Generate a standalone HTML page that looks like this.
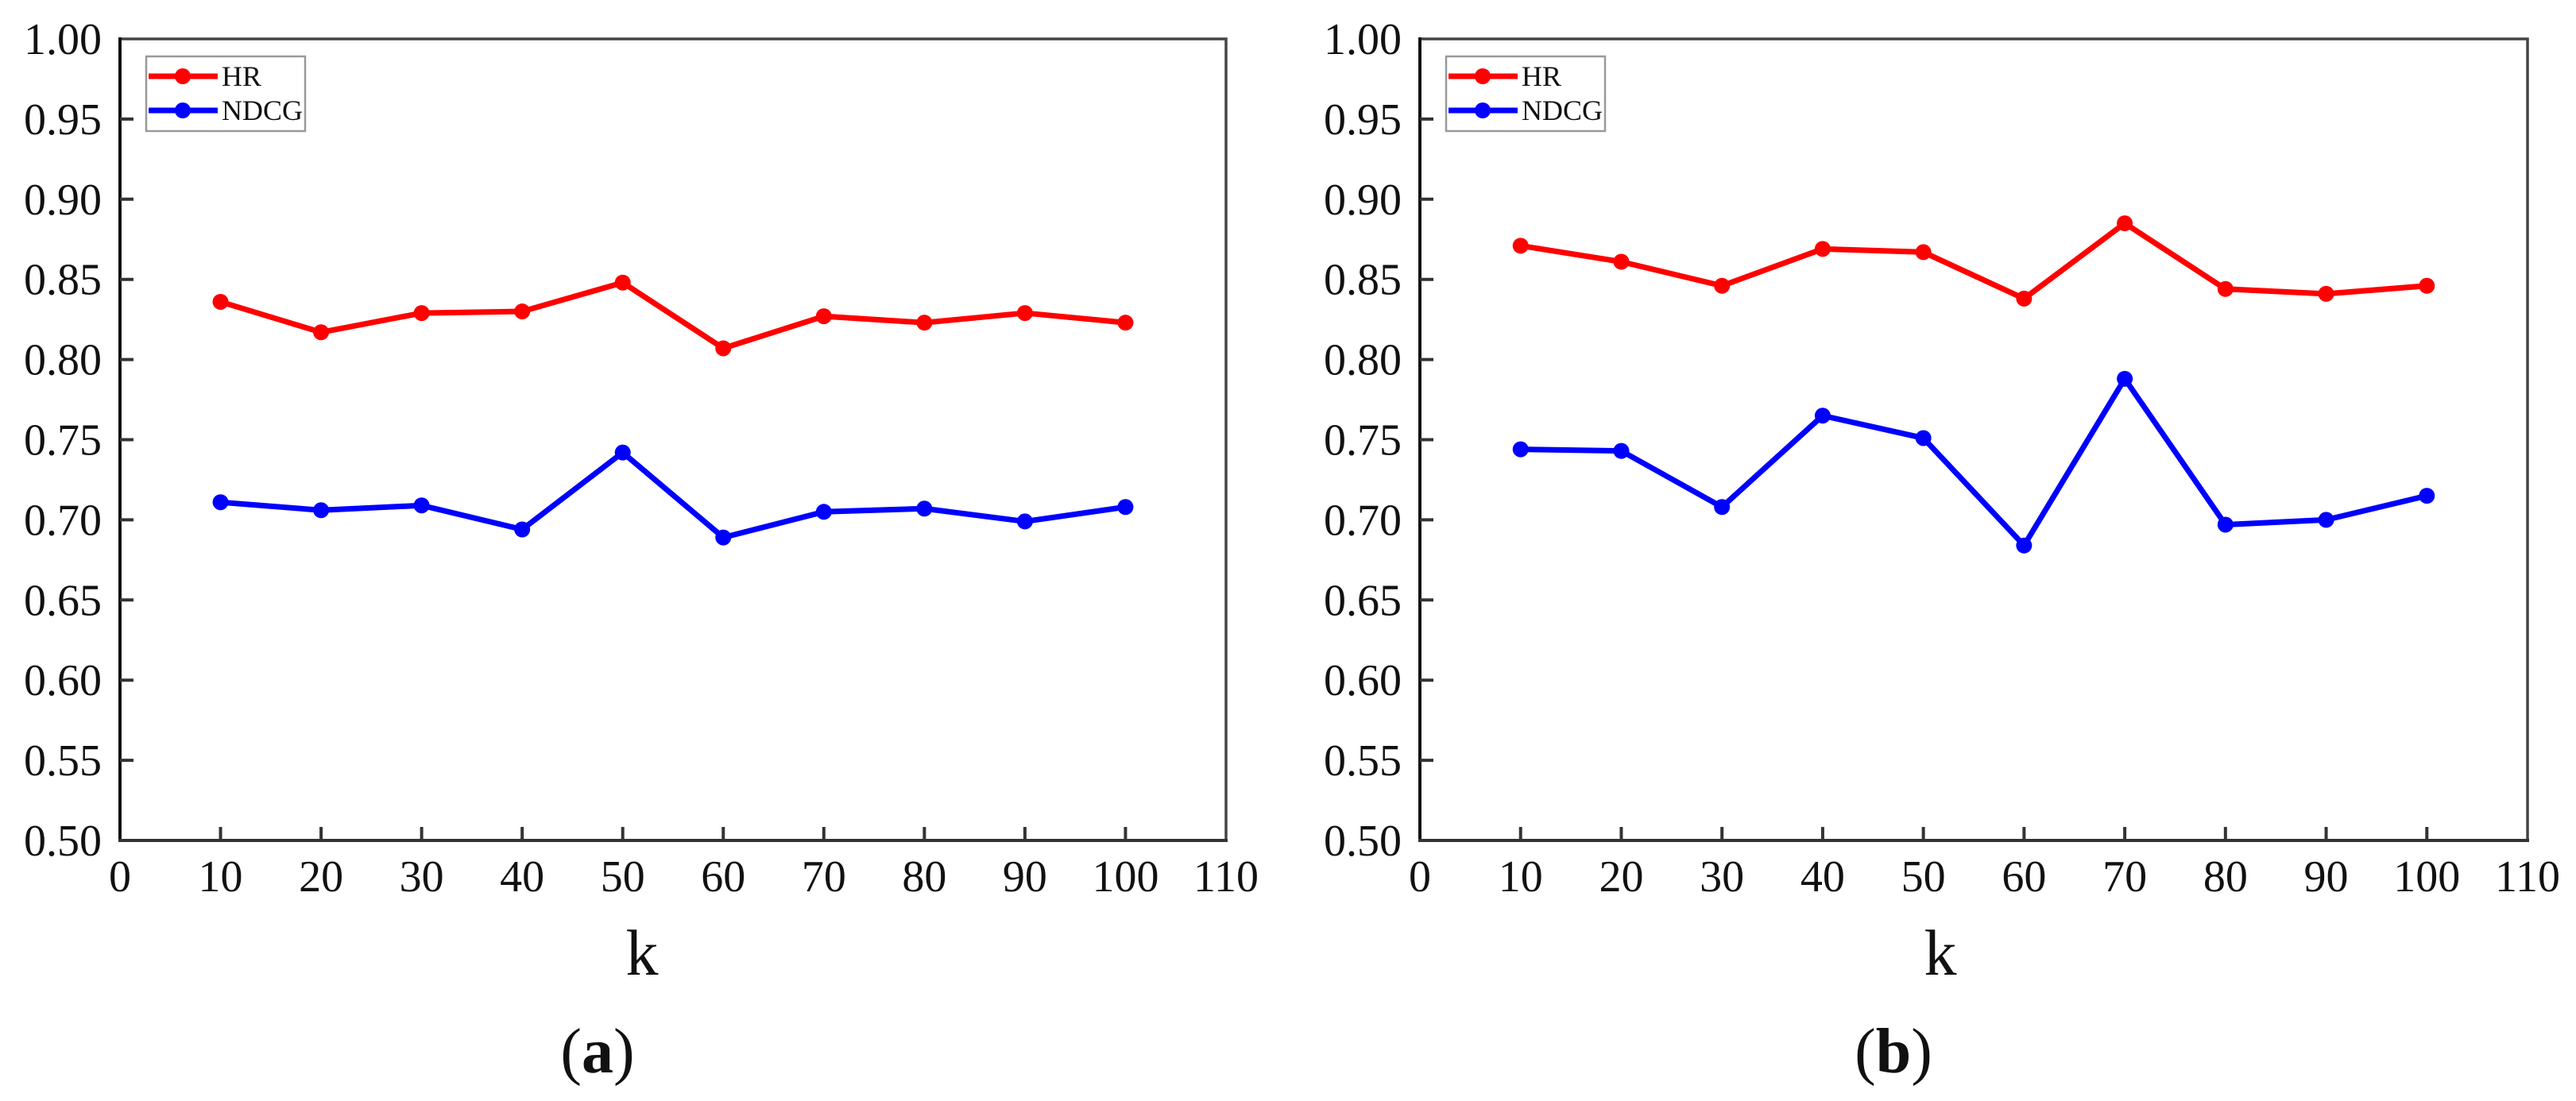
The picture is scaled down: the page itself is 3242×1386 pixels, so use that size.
<!DOCTYPE html>
<html><head><meta charset="utf-8"><style>
html,body{margin:0;padding:0;background:#fff;}
svg{display:block;font-family:"Liberation Serif",serif;}
</style></head><body>
<svg id="fig" width="3242" height="1386" viewBox="0 0 3242 1386" xmlns="http://www.w3.org/2000/svg"></svg>
<script>
const kValues = [10,20,30,40,50,60,70,80,90,100];
const hrA = [0.836,0.817,0.829,0.830,0.848,0.807,0.827,0.823,0.829,0.823];
const ndcgA = [0.711,0.706,0.709,0.694,0.742,0.689,0.705,0.707,0.699,0.708];
const hrB = [0.871,0.861,0.846,0.869,0.867,0.838,0.885,0.844,0.841,0.846];
const ndcgB = [0.744,0.743,0.708,0.765,0.751,0.684,0.788,0.697,0.700,0.715];
const yTicks = ["0.50","0.55","0.60","0.65","0.70","0.75","0.80","0.85","0.90","0.95","1.00"];
const xTicks = ["0","10","20","30","40","50","60","70","80","90","100","110"];
const seriesNames = ["HR","NDCG"];

const NS = "http://www.w3.org/2000/svg";
const svg = document.getElementById("fig");
function mk(tag, attrs, parent){
  const e = document.createElementNS(NS, tag);
  for (const k in attrs) e.setAttribute(k, attrs[k]);
  (parent||svg).appendChild(e);
  return e;
}
function panel(id, left, hr, ndcg, label, kx, lx){
  const top = 49, bottom = 1058, width = left===151 ? 1392 : 1394;
  const g = mk("g", {});
  
  
  const xs = v => left + v/110*width;
  const ys = v => bottom - (v-0.5)/0.5*(bottom-top);
  const fr = mk("rect", {x:left, y:top, width:width, height:bottom-top, fill:"none", stroke:"#444", "stroke-width":3.5}, g);
  
  
  const ya = mk("line", {x1:left, y1:top-2, x2:left, y2:bottom+2, stroke:"#111", "stroke-width":4}, g);
  
  
  const xa = mk("line", {x1:left-2, y1:bottom, x2:left+width+2, y2:bottom, stroke:"#333", "stroke-width":4}, g);
  
  
  yTicks.forEach(t => {
    const y = ys(parseFloat(t));
    if (t!=="0.50" && t!=="1.00") mk("line", {x1:left, y1:y, x2:left+17, y2:y, stroke:"#333", "stroke-width":4}, g);
    const tx = mk("text", {x:left-23, y:y+19, "font-size":56, "text-anchor":"end", fill:"#111"}, g);
    tx.textContent = t;
    
    
  });
  xTicks.forEach(t => {
    const v = parseFloat(t), x = xs(v);
    if (v>0 && v<110) mk("line", {x1:x, y1:bottom, x2:x, y2:bottom-17, stroke:"#333", "stroke-width":4}, g);
    const tx = mk("text", {x:x, y:1122, "font-size":56, "text-anchor":"middle", fill:"#111"}, g);
    tx.textContent = t;
    
    
  });
  const k = mk("text", {x:kx, y:1227, "font-size":82, "text-anchor":"middle", fill:"#111"}, g);
  k.textContent = "k";
  
  
  const cap = mk("text", {x:lx, y:1350, "font-size":80, "text-anchor":"middle", fill:"#111"}, g);
  cap.innerHTML = '(<tspan font-weight="bold">' + label + '</tspan>)';
  
  
  [[hr,"#ff0000"],[ndcg,"#0000ff"]].forEach((s,i) => {
    const pts = kValues.map((kv,j) => xs(kv)+","+ys(s[0][j])).join(" ");
    const pl = mk("polyline", {points:pts, fill:"none", stroke:s[1], "stroke-width":7, "stroke-linejoin":"round"}, g);
    
    
    kValues.forEach((kv,j) => {
      const c = mk("circle", {cx:xs(kv), cy:ys(s[0][j]), r:10, fill:s[1]}, g);
      
      
    });
  });
  const lg = mk("g", {}, g);
  
  
  const ox = left + 33;
  mk("rect", {x:ox, y:71, width:200, height:94, fill:"#fff", stroke:"#999", "stroke-width":2.5}, lg);
  [["HR","#ff0000",96],["NDCG","#0000ff",139]].forEach(e => {
    const en = mk("g", {}, lg);
    
    
    mk("line", {x1:ox+3, y1:e[2], x2:ox+90, y2:e[2], stroke:e[1], "stroke-width":7}, en);
    mk("circle", {cx:ox+46, cy:e[2], r:10, fill:e[1]}, en);
    const t = mk("text", {x:ox+95, y:e[2]+12, "font-size":36, fill:"#111"}, en);
    t.textContent = e[0];
  });
}
panel("a", 151, hrA, ndcgA, "a", 808, 752);
panel("b", 1787, hrB, ndcgB, "b", 2442, 2383);
</script>
</body></html>
